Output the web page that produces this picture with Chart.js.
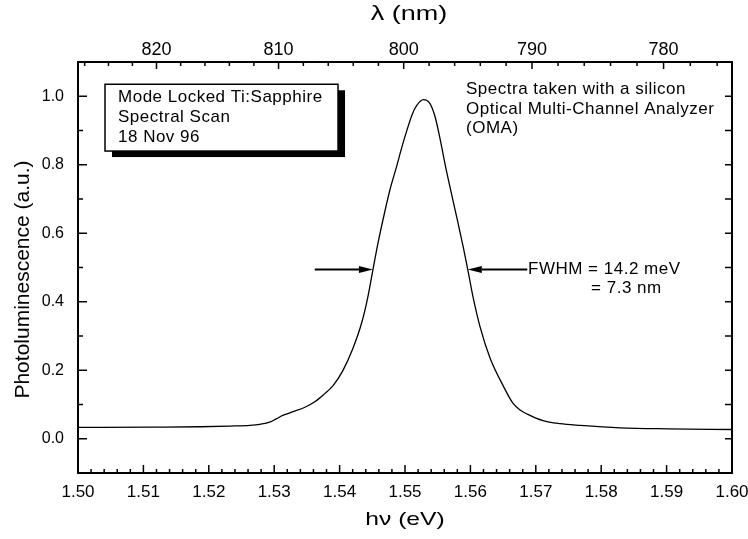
<!DOCTYPE html>
<html>
<head>
<meta charset="utf-8">
<script src="https://cdn.jsdelivr.net/npm/chart.js@4.4.1/dist/chart.umd.min.js"></script>
<style>
  html, body { margin: 0; padding: 0; background: #fff; }
  #wrap { width: 748px; height: 539px; }
</style>
</head>
<body>
<div id="wrap"><canvas id="spectrum" width="748" height="539"></canvas></div>
<script>
const HC = 1239.84; // eV*nm, photon energy <-> wavelength

// photon energy (eV) and normalised PL intensity
const energy = [1.5000, 1.5110, 1.5187, 1.5232, 1.5263, 1.5278, 1.5294, 1.5303, 1.5313, 1.5329,
  1.5347, 1.5362, 1.5375, 1.5390, 1.5405, 1.5420, 1.5434, 1.5443, 1.5451, 1.5459,
  1.5469, 1.5477, 1.5487, 1.5495, 1.5503, 1.5511, 1.5518, 1.5528, 1.5538,
  1.5546, 1.5554, 1.5561, 1.5569, 1.5579, 1.5589, 1.5596, 1.5604, 1.5615, 1.5630,
  1.5650, 1.5665, 1.5676, 1.5687, 1.5711, 1.5737, 1.5768, 1.5829, 1.5902, 1.6000];
const intensity = [0.033, 0.034, 0.035, 0.037, 0.039, 0.042, 0.049, 0.058, 0.068, 0.079,
  0.092, 0.108, 0.128, 0.155, 0.199, 0.262, 0.340, 0.412, 0.494, 0.574,
  0.662, 0.727, 0.794, 0.850, 0.901, 0.947, 0.973, 0.990, 0.979,
  0.940, 0.872, 0.804, 0.733, 0.648, 0.560, 0.494, 0.414, 0.325, 0.236,
  0.155, 0.104, 0.084, 0.072, 0.053, 0.044, 0.039, 0.032, 0.029, 0.027];

const eVTicks = [1.50, 1.51, 1.52, 1.53, 1.54, 1.55, 1.56, 1.57, 1.58, 1.59, 1.60];
const plTicks = [0.0, 0.2, 0.4, 0.6, 0.8, 1.0];
const nmTicks = [820, 810, 800, 790, 780];

const infoLines = ['Mode Locked Ti:Sapphire', 'Spectral Scan', '18 Nov 96'];
const omaLines = ['Spectra taken with a silicon', 'Optical Multi-Channel Analyzer', '(OMA)'];
const fwhmLines = ['FWHM = 14.2 meV', '= 7.3 nm'];
const halfMax = 0.494;
const fwhmLeft = 1.5451;   // edges of the half-maximum
const fwhmRight = 1.5596;

const FONT = '"Liberation Sans", Arial, Helvetica, sans-serif';

// inward tick marks on all four sides of the frame
const frameTicks = {
  id: 'frameTicks',
  afterDraw(chart) {
    const { ctx, chartArea: a, scales } = chart;
    ctx.save();
    ctx.strokeStyle = '#000';
    ctx.lineWidth = 1.5;
    const mark = (x1, y1, x2, y2) => { ctx.beginPath(); ctx.moveTo(x1, y1); ctx.lineTo(x2, y2); ctx.stroke(); };
    for (let i = 0; i <= 50; i++) {
      const px = scales.x.getPixelForValue(1.5 + i * 0.002);
      mark(px, a.bottom, px, a.bottom - (i % 5 === 0 ? 8 : 4));
    }
    for (let nm = 826; nm >= 776; nm -= 2) {
      const px = scales.xTop.getPixelForValue(HC / nm);
      mark(px, a.top, px, a.top + (nm % 10 === 0 ? 7 : 4));
    }
    for (let i = 0; i <= 10; i++) {
      const py = scales.y.getPixelForValue(i / 10);
      mark(a.left, py, a.left + (i % 2 === 0 ? 9 : 5), py);
      mark(a.right, py, a.right - 7, py);
    }
    ctx.restore();
  }
};

// axis titles, boxed caption, notes and FWHM arrows
const notes = {
  id: 'notes',
  afterDraw(chart) {
    const { ctx, chartArea: a, scales } = chart;
    const X = v => scales.x.getPixelForValue(v);
    const Y = v => scales.y.getPixelForValue(v);
    ctx.save();
    ctx.fillStyle = '#000';
    ctx.strokeStyle = '#000';

    const title = (text, cx, cy, size, sx, rot) => {
      ctx.save();
      ctx.translate(cx, cy);
      if (rot) ctx.rotate(rot);
      ctx.scale(sx, 1);
      ctx.font = size + 'px ' + FONT;
      ctx.textAlign = 'center';
      ctx.textBaseline = 'middle';
      ctx.fillText(text, 0, 0);
      ctx.restore();
    };
    const midX = (a.left + a.right) / 2;
    title('hν (eV)', midX, a.bottom + 47, 19, 1.3, 0);
    title('λ (nm)', midX + 4, a.top - 48, 20, 1.35, 0);
    title('Photoluminescence (a.u.)', a.left - 55, (a.top + a.bottom) / 2 + 12, 21, 1, -Math.PI / 2);

    ctx.font = '17px ' + FONT;
    ctx.letterSpacing = '0.5px';
    ctx.textAlign = 'left';
    ctx.textBaseline = 'middle';

    // caption box with drop shadow
    const bx0 = X(1.50413), bx1 = X(1.53976), by0 = Y(1.035), by1 = Y(0.840);
    ctx.fillRect(bx0 + 7, by0 + 6, bx1 - bx0, by1 - by0);
    ctx.fillStyle = '#fff';
    ctx.fillRect(bx0, by0, bx1 - bx0, by1 - by0);
    ctx.fillStyle = '#000';
    ctx.lineWidth = 1.5;
    ctx.strokeRect(bx0, by0, bx1 - bx0, by1 - by0);
    infoLines.forEach((t, i) => ctx.fillText(t, bx0 + 13, by0 + 13 + i * 20));

    const ox = X(1.55933), oy = Y(1.020);
    omaLines.forEach((t, i) => ctx.fillText(t, ox, oy + i * 19.5));

    const fx = X(1.56881), fy = Y(halfMax);
    ctx.fillText(fwhmLines[0], fx, fy);
    ctx.fillText(fwhmLines[1], fx + ctx.measureText('FWHM ').width + 3, fy + 19);

    // arrows pointing at the half-maximum edges
    const arrow = (from, tip, y) => {
      const dir = Math.sign(tip - from);
      const len = 14, hw = 3.5;
      ctx.lineWidth = 2;
      ctx.beginPath();
      ctx.moveTo(from, y);
      ctx.lineTo(tip - dir * len, y);
      ctx.stroke();
      ctx.beginPath();
      ctx.moveTo(tip, y);
      ctx.lineTo(tip - dir * len, y - hw);
      ctx.lineTo(tip - dir * len, y + hw);
      ctx.closePath();
      ctx.fill();
    };
    arrow(X(1.5362), X(fwhmLeft), fy);
    arrow(X(1.5687), X(fwhmRight), fy);
    ctx.restore();
  }
};

const tickFont = size => ({ family: FONT, size: size });

// fixed box sizes so the frame sits where it should; edge labels may overhang
const fixHeight = h => s => { s.height = h; s.paddingLeft = 0; s.paddingRight = 0; };

new Chart(document.getElementById('spectrum'), {
  type: 'line',
  data: {
    datasets: [{
      data: energy.map((e, i) => ({ x: e, y: intensity[i] })),
      borderColor: '#000',
      borderWidth: 1.3,
      pointRadius: 0,
      fill: false,
      cubicInterpolationMode: 'monotone'
    }]
  },
  options: {
    responsive: false,
    animation: false,
    events: [],
    layout: { padding: 0 },
    plugins: { legend: { display: false }, tooltip: { enabled: false } },
    scales: {
      x: {
        type: 'linear', position: 'bottom', min: 1.5, max: 1.6,
        grid: { display: false, drawTicks: false },
        border: { display: true, color: '#000', width: 2 },
        afterBuildTicks: s => { s.ticks = eVTicks.map(v => ({ value: v })); },
        afterFit: fixHeight(66),
        ticks: { color: '#000', font: tickFont(17), padding: 9, maxRotation: 0, autoSkip: false,
          callback: v => v.toFixed(2) }
      },
      xTop: {
        type: 'linear', position: 'top', min: 1.5, max: 1.6,
        grid: { display: false, drawTicks: false },
        border: { display: true, color: '#000', width: 2 },
        afterBuildTicks: s => { s.ticks = nmTicks.map(nm => ({ value: HC / nm })); },
        afterFit: fixHeight(62),
        ticks: { color: '#000', font: tickFont(18), padding: 1, maxRotation: 0, autoSkip: false,
          callback: v => String(Math.round(HC / v)) }
      },
      y: {
        type: 'linear', position: 'left', min: -0.1, max: 1.1,
        grid: { display: false, drawTicks: false },
        border: { display: true, color: '#000', width: 2 },
        afterBuildTicks: s => { s.ticks = plTicks.map(v => ({ value: v })); },
        afterFit: s => { s.width = 78; s.paddingTop = 0; s.paddingBottom = 0; },
        ticks: { color: '#000', font: tickFont(16), padding: 14, autoSkip: false,
          callback: v => v.toFixed(1) }
      },
      yRight: {
        type: 'linear', position: 'right', min: -0.1, max: 1.1,
        grid: { display: false, drawTicks: false },
        border: { display: true, color: '#000', width: 2 },
        afterFit: s => { s.width = 16; s.paddingTop = 0; s.paddingBottom = 0; },
        ticks: { display: false }
      }
    }
  },
  plugins: [frameTicks, notes]
});
</script>
</body>
</html>
